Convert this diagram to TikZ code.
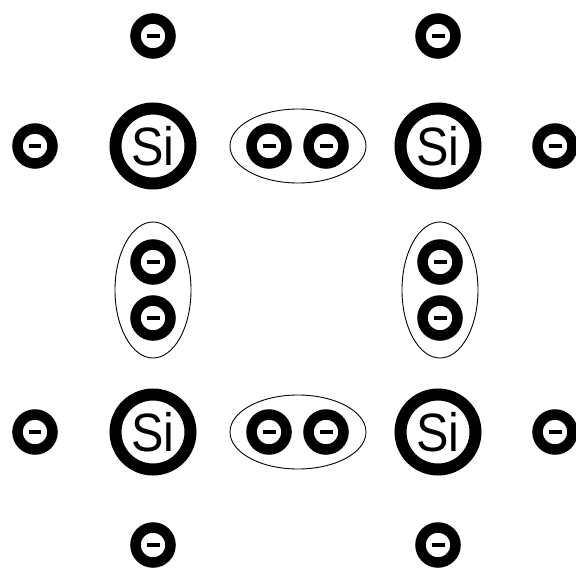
\documentclass[tikz,border=0pt]{standalone}
\usepackage{fontspec}
\usepackage{graphicx}
\setmainfont{Liberation Sans}
\usetikzlibrary{shapes.geometric}
\begin{document}
\begin{tikzpicture}[x=1pt,y=-1pt,
  electron/.style={circle,draw=black,line width=10.5pt,minimum size=35pt,inner sep=0pt,
    node contents={\rule[-1.6pt]{13pt}{3.2pt}}},
  atom/.style={circle,draw=black,line width=12pt,minimum size=75pt,inner sep=0pt,
    font=\fontsize{54}{54}\selectfont},
  bond/.style={ellipse,draw=black,line width=0.9pt,inner sep=0pt}]
\useasboundingbox (0,0) rectangle (576,573);
% atoms
\node[atom] (si1) at (153,146) {\scalebox{0.9}[1]{Si}};
\node[atom] (si2) at (438,146) {\scalebox{0.9}[1]{Si}};
\node[atom] (si3) at (153,432) {\scalebox{0.9}[1]{Si}};
\node[atom] (si4) at (438,432) {\scalebox{0.9}[1]{Si}};
% lone electrons
\node (t1) at (153,36) [electron];
\node (t2) at (438,36) [electron];
\node (l1) at (35,146) [electron];
\node (l2) at (35,432) [electron];
\node (r1) at (555,146) [electron];
\node (r2) at (555,432) [electron];
\node (b1) at (153,545) [electron];
\node (b2) at (438,545) [electron];
% bond pairs
\node[bond,minimum width=136pt,minimum height=74pt] (hb1) at (298,146) {};
\node (h1a) at (269,146) [electron];
\node (h1b) at (326,146) [electron];
\node[bond,minimum width=136pt,minimum height=74pt] (hb2) at (298,432) {};
\node (h2a) at (269,432) [electron];
\node (h2b) at (326,432) [electron];
\node[bond,minimum width=76pt,minimum height=136pt] (vb1) at (153,290) {};
\node (v1a) at (153,262) [electron];
\node (v1b) at (153,318) [electron];
\node[bond,minimum width=76pt,minimum height=136pt] (vb2) at (440,290) {};
\node (v2a) at (440,262) [electron];
\node (v2b) at (440,318) [electron];
\end{tikzpicture}
\end{document}
